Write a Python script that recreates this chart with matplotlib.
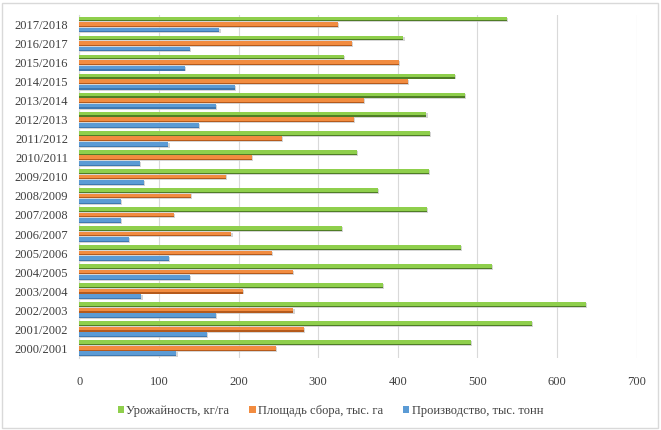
import matplotlib
matplotlib.use("Agg")
import matplotlib.pyplot as plt
import numpy as np
from matplotlib.patches import Rectangle

seasons = ["2000/2001", "2001/2002", "2002/2003", "2003/2004", "2004/2005", "2005/2006",
           "2006/2007", "2007/2008", "2008/2009", "2009/2010", "2010/2011", "2011/2012",
           "2012/2013", "2013/2014", "2014/2015", "2015/2016", "2016/2017", "2017/2018"]
yield_kg_ha = [492, 569, 636, 381, 518, 479, 330, 437, 375, 439, 349, 440,
               436, 484, 472, 332, 407, 537]
area_th_ha = [247, 282, 269, 205, 268, 242, 191, 119, 140, 184, 217, 254,
              345, 357, 413, 401, 342, 325]
prod_th_t = [122, 160, 172, 78, 139, 113, 62, 52, 52, 81, 76, 112,
             150, 172, 195, 133, 139, 176]
series_labels = ["Урожайность, кг/га", "Площадь сбора, тыс. га", "Производство, тыс. тонн"]

plt.rcParams['font.family'] = ['Liberation Serif', 'DejaVu Serif']

fig = plt.figure(figsize=(6.61, 4.30), dpi=100)
ax = fig.add_axes([79.3/661, 1-358/430, (636.6-79.3)/661, (358-15)/430])

y = np.arange(len(seasons))
step = 0.29
bh = 0.25
colors = [("#8fcf4c", "#4f7d26"), ("#f28c40", "#b55a1c"), ("#5b9bd5", "#3f78b0")]
datas = [yield_kg_ha, area_th_ha, prod_th_t]
offs = [step, 0, -step]
handles = []
for d, (c, dc), o, lab in zip(datas, colors, offs, series_labels):
    # soft shadow beneath
    ax.barh(y + o - 0.05, d, height=bh, left=1.5, color="#c4c4c4", alpha=0.7,
            edgecolor="none", zorder=2)
    b = ax.barh(y + o, d, height=bh, color=c, edgecolor="none", zorder=3, label=lab)
    # darker lower strip for the shaded look
    ax.barh(y + o - bh * 0.5 + bh * 0.12, d, height=bh * 0.24, color=dc,
            edgecolor="none", zorder=4)
    handles.append(b)

ax.set_xlim(0, 700)
ax.set_ylim(-0.51, len(seasons) - 0.5)
ax.set_xticks(range(0, 701, 100))
ax.set_yticks(y)
ax.set_yticklabels(seasons)
ax.grid(axis="x", color="#d9d9d9", linewidth=0.8, zorder=0)
for s in ["top", "right", "bottom"]:
    ax.spines[s].set_visible(False)
ax.spines["left"].set_color("#d9d9d9")
ax.tick_params(axis="both", length=0, labelsize=9, colors="#404040")
ax.tick_params(axis="x", pad=13)
ax.tick_params(axis="y", pad=8)

leg = fig.legend(handles=handles, labels=series_labels, loc="center", bbox_to_anchor=(0.5, 1-411/430),
                 ncol=3, frameon=False, fontsize=9, handlelength=0.5, handleheight=0.5,
                 handletextpad=0.2, columnspacing=1.6)
for t in leg.get_texts():
    t.set_color("#404040")

fig.patches.append(Rectangle((2/661, 2/430), 656/661, 425/430, transform=fig.transFigure,
                             fill=False, edgecolor="#d9d9d9", linewidth=1))

fig.savefig("out.png", dpi=100)
